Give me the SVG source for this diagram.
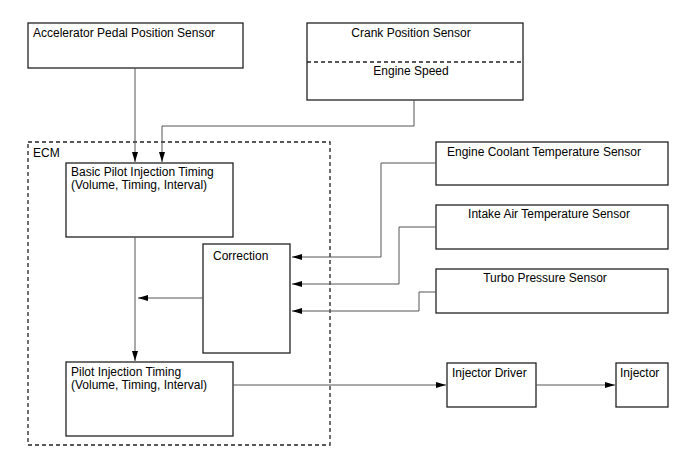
<svg xmlns="http://www.w3.org/2000/svg" width="688" height="463" viewBox="0 0 688 463">
<defs>
<marker id="ah" viewBox="0 0 10 6" refX="10" refY="3" markerWidth="10" markerHeight="6" markerUnits="userSpaceOnUse" orient="auto">
<path d="M0,0 L10,3 L0,6 Z" fill="#000"/>
</marker>
</defs>
<style>
.box{fill:#fff;stroke:#222;stroke-width:1.3}
.t{font-family:"Liberation Sans",Arial,sans-serif;font-size:12px;fill:#000}
.m{text-anchor:middle}
.c{fill:none;stroke:#555;stroke-width:1}
.dash{fill:none;stroke:#222;stroke-width:1.3;stroke-dasharray:4,3}
</style>
<rect width="688" height="463" fill="#fff"/>
<g id="ecm">
<rect class="dash" x="28" y="142" width="302" height="303"/>
<text class="t" x="33" y="157">ECM</text>
</g>
<g id="accel">
<rect class="box" x="28" y="23" width="215" height="45"/>
<text class="t" x="33" y="37">Accelerator Pedal Position Sensor</text>
</g>
<g id="crank">
<rect class="box" x="307" y="23" width="216" height="77"/>
<line class="dash" x1="307" y1="62" x2="523" y2="62"/>
<text class="t m" x="411" y="37">Crank Position Sensor</text>
<text class="t m" x="411" y="75">Engine Speed</text>
</g>
<g id="basic">
<rect class="box" x="66" y="163" width="167" height="74"/>
<text class="t" x="71" y="176">Basic Pilot Injection Timing</text>
<text class="t" x="71" y="189">(Volume, Timing, Interval)</text>
</g>
<g id="correction">
<rect class="box" x="203" y="244" width="87" height="109"/>
<text class="t" x="213" y="260">Correction</text>
</g>
<g id="ect">
<rect class="box" x="436" y="142" width="232" height="43"/>
<text class="t" x="447" y="156">Engine Coolant Temperature Sensor</text>
</g>
<g id="iat">
<rect class="box" x="436" y="205" width="232" height="44"/>
<text class="t m" x="549" y="218">Intake Air Temperature Sensor</text>
</g>
<g id="turbo">
<rect class="box" x="436" y="269" width="232" height="44"/>
<text class="t m" x="545" y="282">Turbo Pressure Sensor</text>
</g>
<g id="pilot">
<rect class="box" x="66" y="362" width="167" height="74"/>
<text class="t" x="71" y="376">Pilot Injection Timing</text>
<text class="t" x="71" y="389">(Volume, Timing, Interval)</text>
</g>
<g id="driver">
<rect class="box" x="447" y="363" width="89" height="44"/>
<text class="t" x="452" y="377">Injector Driver</text>
</g>
<g id="injector">
<rect class="box" x="616" y="363" width="52" height="44"/>
<text class="t" x="620" y="377">Injector</text>
</g>
<g id="connectors">
<polyline class="c" points="135,68 135,162" marker-end="url(#ah)"/>
<polyline class="c" points="414,100 414,126 162,126 162,162" marker-end="url(#ah)"/>
<polyline class="c" points="135,237 135,361" marker-end="url(#ah)"/>
<polyline class="c" points="203,298 138,298" marker-end="url(#ah)"/>
<polyline class="c" points="436,163 381,163 381,257 292,257" marker-end="url(#ah)"/>
<polyline class="c" points="436,227 399,227 399,284 292,284" marker-end="url(#ah)"/>
<polyline class="c" points="436,292 419,292 419,311 292,311" marker-end="url(#ah)"/>
<polyline class="c" points="233,385 446,385" marker-end="url(#ah)"/>
<polyline class="c" points="536,385 615,385" marker-end="url(#ah)"/>
</g>
</svg>
